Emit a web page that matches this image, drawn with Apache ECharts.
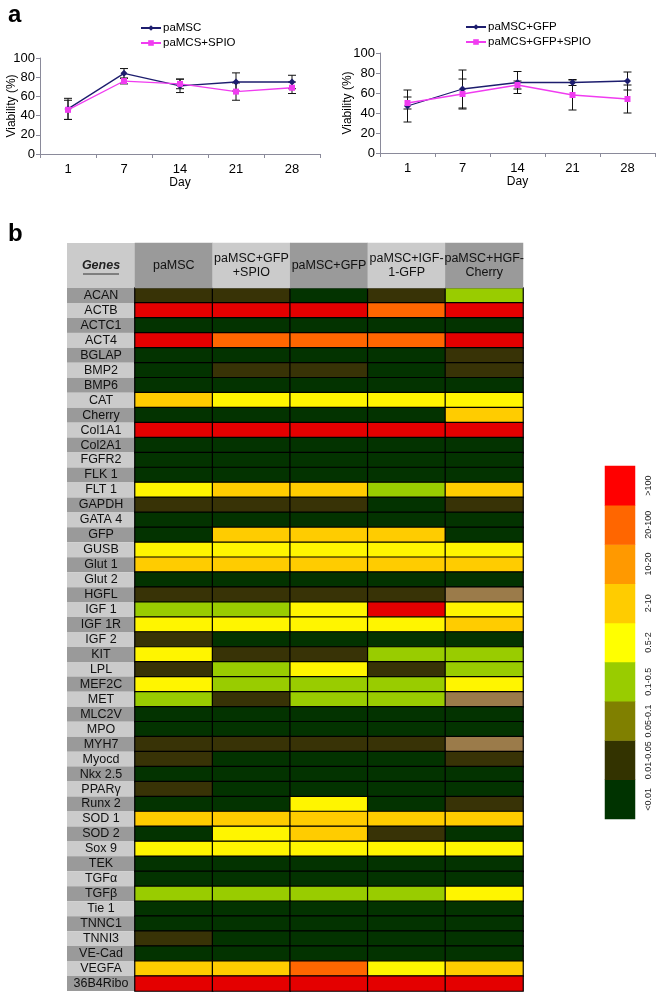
<!DOCTYPE html>
<html><head><meta charset="utf-8">
<script src="https://cdn.jsdelivr.net/npm/echarts@6/dist/echarts.min.js"></script>
<style>html,body{margin:0;padding:0;background:#fff}#c{width:660px;height:992px}</style>
</head><body><div id="c"></div>
<script>
// ---- Panel a data ----
const days = ['1','7','14','21','28'];
const paMSC = [47, 84, 71, 75, 75];
const paMSC_err = [11, 5, 7, 9.5, 7];
const paMCS_SPIO = [46, 76, 73, 65, 69];
const paMCS_SPIO_err = [10, 3, 5, 9, 6];
const paMSC_GFP = [47, 64, 70.5, 70.5, 72];
const paMSC_GFP_err = [16, 19, 11, 3, 9];
const paMCS_GFP_SPIO = [50, 59, 68, 58, 54];
const paMCS_GFP_SPIO_err = [6, 15, 4, 15, 14];
const viabilityTicks = [0, 20, 40, 60, 80, 100];

// ---- Panel b data ----
const columns = ['paMSC', 'paMSC+GFP\n+SPIO', 'paMSC+GFP', 'paMSC+IGF-\n1-GFP', 'paMSC+HGF-\nCherry'];
const genes = ['ACAN','ACTB','ACTC1','ACT4','BGLAP','BMP2','BMP6','CAT','Cherry','Col1A1','Col2A1','FGFR2','FLK 1','FLT 1','GAPDH','GATA 4','GFP','GUSB','Glut 1','Glut 2','HGFL','IGF 1','IGF 1R','IGF 2','KIT','LPL','MEF2C','MET','MLC2V','MPO','MYH7','Myocd','Nkx 2.5','PPARγ','Runx 2','SOD 1','SOD 2','Sox 9','TEK','TGFα','TGFβ','Tie 1','TNNC1','TNNI3','VE-Cad','VEGFA','36B4Ribo'];
// expression level class per gene (rows) and column: 0:<0.01 1:0.01-0.05 2:0.05-0.1 3:0.1-0.5 4:0.5-2 5:2-10 6:10-20 7:20-100 8:>100
const levels = [
 [1,1,0,1,3],[8,8,8,7,8],[0,0,0,0,0],[8,7,7,7,8],[0,0,0,0,1],[0,1,1,0,1],[0,0,0,0,0],[5,4,4,4,4],
 [0,0,0,0,5],[8,8,8,8,8],[0,0,0,0,0],[0,0,0,0,0],[0,0,0,0,0],[4,5,5,3,5],[1,1,1,0,1],[0,0,0,0,0],
 [0,5,5,5,0],[4,4,4,4,4],[5,5,5,5,5],[0,0,0,0,0],[1,1,1,1,2],[3,3,4,8,4],[4,4,4,4,5],[1,0,0,0,0],
 [4,1,1,3,3],[1,3,4,1,3],[4,3,3,3,4],[3,1,3,3,2],[0,0,0,0,0],[0,0,0,0,0],[1,1,1,1,2],[1,0,0,0,1],
 [0,0,0,0,0],[1,0,0,0,0],[0,0,4,0,1],[5,5,5,5,5],[0,4,5,1,0],[4,4,4,4,4],[0,0,0,0,0],[0,0,0,0,0],
 [3,3,3,3,4],[0,0,0,0,0],[0,0,0,0,0],[1,0,0,0,0],[0,0,0,0,0],[5,5,7,4,5],[8,8,8,8,8]
];
const legendLabels = ['<0.01','0.01-0.05','0.05-0.1','0.1-0.5','0.5-2','2-10','10-20','20-100','>100'];
const cellColors = ['#033300','#383306','#9b7b4a','#99cc00','#fff500','#ffcc00','#ff9900','#ff6600','#e40000'];
const legendColors = ['#003300','#333300','#808000','#99cc00','#ffff00','#ffcc00','#ff9900','#ff6600','#ff0000'];

const FONT = 'Liberation Sans, Arial, sans-serif';
const chart = echarts.init(document.getElementById('c'), null, {renderer:'canvas'});

function errSeries(name, means, errs, xi, yi){
  return {
    type:'custom', name:name, xAxisIndex:xi, yAxisIndex:yi, z:1,
    data: means.map((m,i)=>[i, m, errs[i]]),
    encode:{x:0, y:1},
    renderItem:function(params, api){
      const x = api.value(0), m = api.value(1), e = api.value(2);
      const hi = api.coord([x, m+e]), lo = api.coord([x, m-e]);
      const w = 4, st = {stroke:'#111', lineWidth:1};
      return {type:'group', children:[
        {type:'line', shape:{x1:hi[0],y1:hi[1],x2:lo[0],y2:lo[1]}, style:st},
        {type:'line', shape:{x1:hi[0]-w,y1:hi[1],x2:hi[0]+w,y2:hi[1]}, style:st},
        {type:'line', shape:{x1:lo[0]-w,y1:lo[1],x2:lo[0]+w,y2:lo[1]}, style:st}
      ]};
    }
  };
}
function lineSeries(name, data, color, symbol, size, xi, yi){
  return {type:'line', name:name, data:data, xAxisIndex:xi, yAxisIndex:yi, z:3,
    symbol:symbol, symbolSize:size, showSymbol:true,
    lineStyle:{color:color, width:1.3}, itemStyle:{color:color}};
}
function lineX(gi){
  return {type:'category', gridIndex:gi, data:days, boundaryGap:true,
    name:'Day', nameLocation:'middle', nameGap:22,
    nameTextStyle:{fontFamily:FONT, fontSize:12, color:'#000'},
    axisLine:{lineStyle:{color:'#8a8a9a', width:1}},
    axisTick:{show:true, length:4, lineStyle:{color:'#8a8a9a'}},
    axisLabel:{fontFamily:FONT, fontSize:13, color:'#000', margin:9}};
}
function lineY(gi){
  return {type:'value', gridIndex:gi, min:viabilityTicks[0], max:viabilityTicks[viabilityTicks.length-1], interval:20,
    splitLine:{show:false},
    axisLine:{show:true, lineStyle:{color:'#8a8a9a', width:1}},
    axisTick:{show:true, length:4, lineStyle:{color:'#8a8a9a'}},
    axisLabel:{fontFamily:FONT, fontSize:13, color:'#000', margin:5}};
}
function yTitle(x, y){
  return {type:'text', x:x, y:y, rotation:Math.PI/2,
    style:{text:'Viability (%)', font:'12px Liberation Sans, Arial', fill:'#000', align:'center', verticalAlign:'middle'}};
}

const heatData = [];
levels.forEach((row, r)=>row.forEach((v, c)=>heatData.push([c, r, v])));
const headerData = columns.map((c,i)=>[i, 0, i%2]);
const legendData = legendLabels.map((l,i)=>[0, i, i]);

const legendText = {fontFamily:FONT, fontSize:11.5, color:'#000', padding:[0,0,0,-3]};
const option = {
  animation:false,
  textStyle:{fontFamily:FONT},
  title:[
    {text:'a', left:3, top:-2, textStyle:{fontFamily:FONT, fontSize:24, fontWeight:'bold', color:'#000'}},
    {text:'b', left:3, top:217, textStyle:{fontFamily:FONT, fontSize:24, fontWeight:'bold', color:'#000'}}
  ],
  legend:[
    {left:140, top:20, orient:'vertical', itemGap:3, itemWidth:20, itemHeight:7, padding:[2,2,2,0],
      data:['paMSC','paMCS+SPIO'], textStyle:legendText},
    {left:465, top:19, orient:'vertical', itemGap:3, itemWidth:20, itemHeight:7, padding:[2,2,2,0],
      data:['paMSC+GFP','paMCS+GFP+SPIO'], textStyle:legendText}
  ],
  grid:[
    {left:40, width:280, top:58, height:96},
    {left:380, width:275, top:53, height:100},
    {left:135, width:388, top:288, height:703},
    {left:135, width:388, top:243, height:45},
    {left:605, width:30, top:466, height:353}
  ],
  xAxis:[
    lineX(0), lineX(1),
    {type:'category', gridIndex:2, data:columns, position:'top', show:false},
    {type:'category', gridIndex:3, data:columns, show:false},
    {type:'category', gridIndex:4, data:[''], show:false}
  ],
  yAxis:[
    lineY(0), lineY(1),
    {type:'category', gridIndex:2, data:genes, inverse:true,
      axisLine:{show:false}, axisTick:{show:false}, splitLine:{show:false},
      axisLabel:{interval:0, margin:0,
        formatter:function(v, i){ return (i%2===0 ? '{d|' : '{l|') + v + '}'; },
        rich:{
          d:{backgroundColor:'#9a9a9a', width:68, height:15, lineHeight:15, align:'center', fontFamily:FONT, fontSize:12.5, color:'#111'},
          l:{backgroundColor:'#cbcbcb', width:68, height:15, lineHeight:15, align:'center', fontFamily:FONT, fontSize:12.5, color:'#111'}
        }}},
    {type:'category', gridIndex:3, data:['header'], show:false},
    {type:'category', gridIndex:4, data:legendLabels, position:'right',
      axisLine:{show:false}, axisTick:{show:false}, splitLine:{show:false},
      axisLabel:{interval:0, rotate:90, margin:9, fontFamily:FONT, fontSize:9, color:'#222'}}
  ],
  visualMap:[
    {type:'piecewise', show:false, seriesIndex:8, dimension:2,
      pieces:cellColors.map((c,i)=>({value:i, color:c}))},
    {type:'piecewise', show:false, seriesIndex:9, dimension:2,
      pieces:[{value:0, color:'#9a9a9a'}, {value:1, color:'#cbcbcb'}]},
    {type:'piecewise', show:false, seriesIndex:10, dimension:2,
      pieces:legendColors.map((c,i)=>({value:i, color:c}))}
  ],
  series:[
    errSeries('e1', paMSC, paMSC_err, 0, 0),
    errSeries('e2', paMCS_SPIO, paMCS_SPIO_err, 0, 0),
    errSeries('e3', paMSC_GFP, paMSC_GFP_err, 1, 1),
    errSeries('e4', paMCS_GFP_SPIO, paMCS_GFP_SPIO_err, 1, 1),
    lineSeries('paMSC', paMSC, '#1d1d6e', 'diamond', 7, 0, 0),
    lineSeries('paMCS+SPIO', paMCS_SPIO, '#f03cf0', 'rect', 6, 0, 0),
    lineSeries('paMSC+GFP', paMSC_GFP, '#1d1d6e', 'diamond', 7, 1, 1),
    lineSeries('paMCS+GFP+SPIO', paMCS_GFP_SPIO, '#f03cf0', 'rect', 6, 1, 1),
    {type:'heatmap', xAxisIndex:2, yAxisIndex:2, data:heatData,
      itemStyle:{borderColor:'#000', borderWidth:1.2}, emphasis:{disabled:true}},
    {type:'heatmap', xAxisIndex:3, yAxisIndex:3, data:headerData,
      label:{show:true, formatter:function(p){ return columns[p.value[0]]; },
        fontFamily:FONT, fontSize:12.5, lineHeight:14, color:'#111'},
      itemStyle:{borderWidth:0}, emphasis:{disabled:true}},
    {type:'heatmap', xAxisIndex:4, yAxisIndex:4, data:legendData,
      itemStyle:{borderWidth:0}, emphasis:{disabled:true}}
  ],
  graphic:[
    yTitle(12, 106),
    yTitle(348, 103),
    {type:'group', left:67, top:243, children:[
      {type:'rect', shape:{x:0, y:0, width:68, height:45}, style:{fill:'#cbcbcb'}},
      {type:'text', x:34, y:23, style:{text:'Genes', font:'italic bold 12.5px Liberation Sans, Arial', fill:'#222', align:'center', verticalAlign:'middle'}},
      {type:'line', shape:{x1:16, y1:31, x2:52, y2:31}, style:{stroke:'#333', lineWidth:1}}
    ]}
  ]
};
chart.setOption(option);
</script>
</body></html>
